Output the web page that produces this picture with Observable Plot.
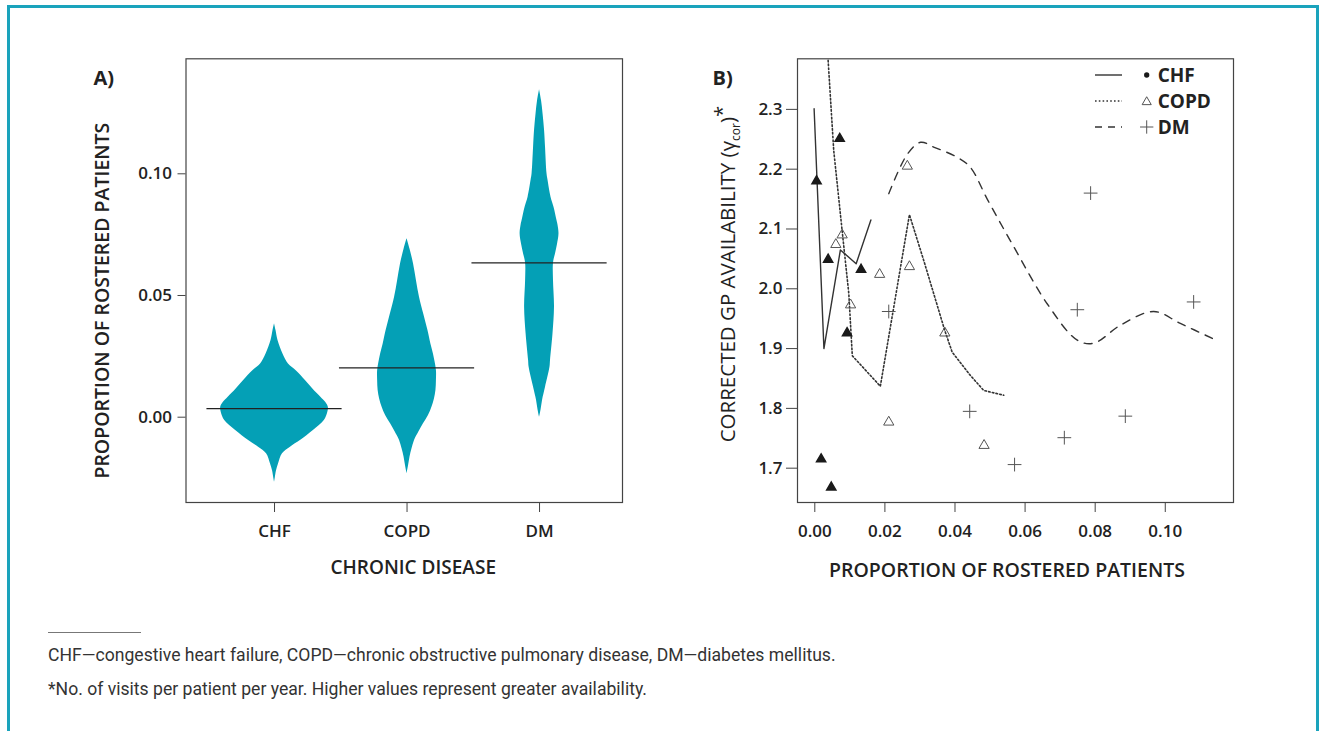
<!DOCTYPE html>
<html>
<head>
<meta charset="utf-8">
<script src="https://cdn.jsdelivr.net/npm/d3@7"></script>
<script src="https://cdn.jsdelivr.net/npm/@observablehq/plot@0.6"></script>
<style>
  html, body { margin: 0; padding: 0; background: #fff; }
  #wrap { position: relative; width: 1325px; height: 731px; overflow: hidden; background: #fff; }
  #border { position: absolute; left: 7px; top: 5px; width: 1312px; height: 800px; border: 3px solid #1aa3bc; box-sizing: border-box; }
  #panelA { position: absolute; left: 0; top: 0; }
  #panelB { position: absolute; left: 640px; top: 0; }
  .rule { position: absolute; left: 48px; top: 632px; width: 93px; border-top: 1px solid #777; }
  .note { position: absolute; left: 48px; font-family: Roboto, "Open Sans", sans-serif; font-size: 17.6px; color: #333; white-space: nowrap; line-height: 20px; }
</style>
</head>
<body>
<div id="wrap">
  <div id="border"></div>
  <div id="panelA"></div>
  <div id="panelB"></div>
  <div class="rule"></div>
  <div class="note" style="top:645px">CHF—congestive heart failure, COPD—chronic obstructive pulmonary disease, DM—diabetes mellitus.</div>
  <div class="note" style="top:679px">*No. of visits per patient per year. Higher values represent greater availability.</div>
</div>
<script>
// ---------------- DATA ----------------
const diseases = ["CHF", "COPD", "DM"];

// violin profiles: [proportion of rostered patients, relative density width]
const chfViolin = [[-0.0267,0],[-0.0250,1.5],[-0.0220,4],[-0.0192,8],[-0.0150,16],[-0.0123,32],[-0.0096,52],[-0.0055,78],[-0.0014,100],[0.0020,107],[0.0041,108],[0.0060,103],[0.0082,93],[0.0116,77],[0.0151,62],[0.0192,43],[0.0219,28],[0.0260,17],[0.0315,7],[0.0356,3],[0.0384,0]];
const copdViolin = [[-0.0233,0],[-0.0200,3],[-0.0164,6],[-0.0130,10],[-0.0096,15],[-0.0060,24],[-0.0027,33],[0.0007,43],[0.0041,50],[0.0075,55],[0.0110,58],[0.0150,59],[0.0192,59],[0.0230,56],[0.0260,53],[0.0300,48],[0.0356,42],[0.0420,34],[0.0493,25],[0.0560,19],[0.0630,13],[0.0690,6],[0.0733,0]];
const dmViolin = [[0.0000,0],[0.0030,3],[0.0069,6],[0.0123,12],[0.0206,21],[0.0233,22],[0.0343,27],[0.0452,30],[0.0562,28],[0.0633,28],[0.0671,32],[0.0710,36],[0.0753,39],[0.0790,37],[0.0808,35],[0.0863,29],[0.0904,23],[0.0973,17],[0.1000,15],[0.1109,12],[0.1180,10],[0.1247,7],[0.1300,4],[0.1345,0]];
const medians = [0.0035, 0.0203, 0.0634];

const aTicksY = [0.00, 0.05, 0.10];

// panel B: points [proportion, corrected GP availability]
const chfPoints = [[0.0005,2.180],[0.0071,2.251],[0.0038,2.049],[0.0132,2.032],[0.0092,1.926],[0.0018,1.715],[0.0047,1.668]];
const copdPoints = [[0.0264,2.205],[0.0078,2.090],[0.0060,2.074],[0.0270,2.037],[0.0185,2.024],[0.0102,1.973],[0.0371,1.926],[0.0211,1.777],[0.0483,1.738]];
const dmPoints = [[0.0211,1.962],[0.0442,1.795],[0.0787,2.160],[0.0749,1.965],[0.1081,1.978],[0.0886,1.787],[0.0712,1.751],[0.0570,1.706]];

// panel B: smoothed curves
const chfCurve = [[-0.0002,2.301],[0.0026,1.900],[0.0073,2.065],[0.0118,2.042],[0.0160,2.115]];
const copdCurve = [[0.0038,2.382],[0.0054,2.231],[0.0078,2.097],[0.0097,1.992],[0.0107,1.888],[0.0187,1.837],[0.0270,2.124],[0.0311,2.047],[0.0371,1.930],[0.0392,1.894],[0.0444,1.855],[0.0482,1.830],[0.0539,1.822]];
const dmCurve = [[0.0211,2.159],[0.0264,2.225],[0.0302,2.245],[0.0339,2.237],[0.0406,2.220],[0.0444,2.203],[0.0492,2.150],[0.0568,2.070],[0.0663,1.975],[0.0749,1.914],[0.0796,1.909],[0.0872,1.939],[0.0967,1.962],[0.1043,1.942],[0.1138,1.916]];

const bTicksX = [0.00, 0.02, 0.04, 0.06, 0.08, 0.10];
const bTicksY = [1.7, 1.8, 1.9, 2.0, 2.1, 2.2, 2.3];

const legendLabels = ["CHF", "COPD", "DM"];

// ---------------- STYLE ----------------
const teal = "#04a0b6";
const ink = "#222";
const font = "'Open Sans', 'Noto Sans', sans-serif";

// ---------------- PANEL A ----------------
const violinRows = [];
[chfViolin, copdViolin, dmViolin].forEach((prof, i) => {
  prof.forEach(([v, w]) => violinRows.push({disease: diseases[i], i, v, w}));
});
const halfScale = 0.5 / 133; // density units -> x units (half width)
const medianRows = medians.map((m, i) => ({i, m}));

const plotA = Plot.plot({
  width: 640, height: 600,
  marginLeft: 185.5, marginTop: 58.3, marginRight: 18, marginBottom: 98,
  x: {domain: [-0.668, 2.626]},
  y: {domain: [-0.03505, 0.14725]},
  style: {fontFamily: font, fontSize: "17px", fontWeight: "600", color: ink, background: "transparent", overflow: "visible"},
  marks: [
    Plot.areaX(violinRows, {y: "v", x1: d => d.i - d.w * halfScale, x2: d => d.i + d.w * halfScale, z: "disease", fill: teal, curve: "catmull-rom"}),
    Plot.ruleY(medianRows, {y: "m", x1: d => d.i - 0.51, x2: d => d.i + 0.51, stroke: ink, strokeWidth: 1.3}),
    Plot.frame({stroke: "#444", strokeWidth: 1.2}),
    Plot.axisX([0, 1, 2], {tickFormat: i => diseases[i], tickSize: 10, tickPadding: 12, label: null, fontSize: 17, fontWeight: 600, stroke: "#444"}),
    Plot.axisY(aTicksY, {tickFormat: d3.format(".2f"), tickSize: 8, tickPadding: 6, label: null, fontSize: 17, fontWeight: 600, stroke: "#444"}),
    Plot.text(["PROPORTION OF ROSTERED PATIENTS"], {frameAnchor: "left", textAnchor: "middle", rotate: -90, dx: -83, dy: 20, fontSize: 19.5, fontWeight: 600, fill: ink}),
    Plot.text(["CHRONIC DISEASE"], {frameAnchor: "bottom", dx: 9, dy: 71, fontSize: 19, fontWeight: 600, fill: ink}),
    Plot.text(["A)"], {frameAnchor: "top-left", textAnchor: "start", dx: -92.5, dy: 12, fontSize: 20, fontWeight: 700, fill: ink})
  ]
});
document.getElementById("panelA").appendChild(plotA);

// ---------------- PANEL B ----------------
const toObj = a => a.map(([x, y]) => ({x, y}));
const plotB = Plot.plot({
  width: 685, height: 600,
  marginLeft: 157, marginTop: 58.3, marginRight: 92, marginBottom: 98,
  x: {domain: [-0.00494, 0.11947]},
  y: {domain: [1.6426, 2.3846]},
  style: {fontFamily: font, fontSize: "17px", fontWeight: "600", color: ink, background: "transparent", overflow: "visible"},
  marks: [
    Plot.line(toObj(chfCurve), {x: "x", y: "y", stroke: "#333", strokeWidth: 1.4, clip: true}),
    Plot.line(toObj(copdCurve), {x: "x", y: "y", stroke: "#333", strokeWidth: 1.6, strokeDasharray: "1.6,2.2", clip: true}),
    Plot.line(toObj(dmCurve), {x: "x", y: "y", stroke: "#333", strokeWidth: 1.4, strokeDasharray: "8,7", curve: "catmull-rom", clip: true}),
    Plot.dot(toObj(copdPoints), {x: "x", y: "y", symbol: "triangle", r: 3.8, stroke: "#555", strokeWidth: 1, fill: "none"}),
    Plot.dot(toObj(dmPoints), {x: "x", y: "y", symbol: "plus", r: 4.5, stroke: "#555", strokeWidth: 1}),
    Plot.dot(toObj(chfPoints), {x: "x", y: "y", symbol: "triangle", r: 3.4, stroke: "#1a1a1a", fill: "#1a1a1a"}),
    Plot.frame({stroke: "#444", strokeWidth: 1.2}),
    Plot.axisX(bTicksX, {tickFormat: d3.format(".2f"), tickSize: 10, tickPadding: 12, label: null, fontSize: 17, fontWeight: 600, stroke: "#444"}),
    Plot.axisY(bTicksY, {tickFormat: d3.format(".1f"), tickSize: 11, tickPadding: 4, label: null, fontSize: 17, fontWeight: 600, stroke: "#444"}),
    Plot.text(["PROPORTION OF ROSTERED PATIENTS"], {frameAnchor: "bottom", dx: -8.5, dy: 74, fontSize: 19.5, fontWeight: 600, fill: ink}),
    Plot.text(["B)"], {frameAnchor: "top-left", textAnchor: "start", dx: -85, dy: 12, fontSize: 20, fontWeight: 700, fill: ink})
  ]
});
document.getElementById("panelB").appendChild(plotB);

// y-axis title with subscript / superscript
const svgB = d3.select(plotB);
const yt = svgB.append("text")
  .attr("transform", "translate(88,274) rotate(-90)")
  .attr("text-anchor", "middle")
  .attr("fill", ink)
  .style("font-family", font)
  .style("font-size", "20.5px")
  .style("font-weight", "500");
yt.append("tspan").attr("dy", "0.35em").text("CORRECTED GP AVAILABILITY (γ");
yt.append("tspan").attr("dy", 5).style("font-size", "12px").text("cor");
yt.append("tspan").attr("dy", -5).text(")");
yt.append("tspan").attr("dy", -6).text("*");

// legend
const leg = svgB.append("g").style("font-family", font).attr("text-anchor", "start");
const dashes = [null, "1.6,2.2", "7,6"];
const syms = [d3.symbolCircle, d3.symbolTriangle, d3.symbolPlus];
legendLabels.forEach((lab, k) => {
  const yy = 75 + k * 26;
  leg.append("line").attr("x1", 455).attr("x2", 482).attr("y1", yy).attr("y2", yy)
    .attr("stroke", "#333").attr("stroke-width", k === 1 ? 1.6 : 1.4)
    .attr("stroke-dasharray", dashes[k]);
  const sym = d3.symbol().type(syms[k]).size(k === 0 ? 22 : (k === 1 ? 36 : 60))();
  leg.append("path").attr("d", sym).attr("transform", `translate(506.7,${yy + (k === 1 ? 1 : 0)})`)
    .attr("fill", k === 0 ? "#1a1a1a" : "none").attr("stroke", k === 0 ? "none" : "#555").attr("stroke-width", 1);
  leg.append("text").attr("x", 517.7).attr("y", yy).attr("dy", "0.36em").attr("text-anchor", "start")
    .attr("fill", ink).style("font-size", "19px").style("font-weight", "700").text(lab);
});
</script>
</body>
</html>
